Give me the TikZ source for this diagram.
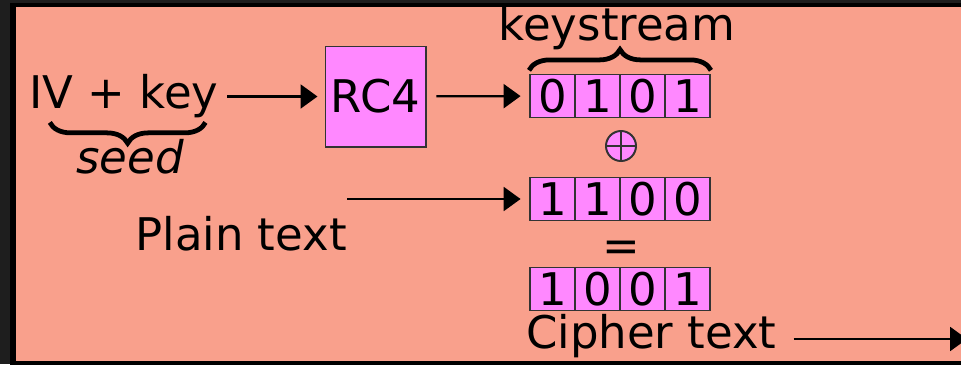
\documentclass[tikz,border=0pt]{standalone}
\usepackage{fontspec}
\setmainfont{DejaVu Sans}
\usetikzlibrary{arrows.meta,decorations.pathreplacing}
\definecolor{salmon}{HTML}{F9A08C}
\definecolor{pink}{HTML}{FF88FF}
\definecolor{frame}{HTML}{1E1E1E}

\begin{document}
\begin{tikzpicture}[x=0.025cm,y=-0.025cm,
  every node/.style={inner sep=0pt,font=\fontsize{32}{38}\selectfont},
  bit/.style={draw=black!80,line width=1.4pt,fill=pink,minimum width=1.125cm,minimum height=1.075cm},
  flow/.style={line width=1.6pt,-{Triangle[length=12pt,width=17pt]}},
  curly/.style={line width=3.4pt,decorate,decoration={brace,amplitude=0.52cm}}]
% frame and background
\useasboundingbox (0,0) rectangle (961,364);
\fill[frame] (0,0) rectangle (961,364);
\fill[black] (10,3) rectangle (975,370);
\fill[salmon] (16,7) rectangle (975,361);
% key schedule
\node[anchor=base west] (ivkey) at (29,108) {IV + key};
\node[anchor=base] (seed) at (130,173) {\itshape seed};
\node[draw=black!80,line width=1.4pt,fill=pink,minimum size=2.5cm] (rc4) at (375.5,96.5) {RC4};
\node[anchor=base] (ks) at (617,40) {keystream};
% bit rows
\foreach \b [count=\i] in {0,1,0,1} \node[bit] (k\i) at ({530+45*(\i-0.5)},96) {\b};
\foreach \b [count=\i] in {1,1,0,0} \node[bit] (p\i) at ({530+45*(\i-0.5)},199) {\b};
\foreach \b [count=\i] in {1,0,0,1} \node[bit] (c\i) at ({530+45*(\i-0.5)},289) {\b};
\node[draw=black!80,line width=1.4pt,fill=pink,circle,minimum size=0.75cm] (xor) at (621,146) {};
\draw[black!80,line width=1.4pt] (xor.north)--(xor.south) (xor.west)--(xor.east);
\node (eq) at (621,251) {=};
\node[anchor=base east] (plain) at (347,250) {Plain text};
\node[anchor=base west] (cipher) at (526,348) {Cipher text};
\coordinate (out) at (967,339);
% connectors
\draw[flow,shorten <=6pt,shorten >=5pt] (ivkey.east|-rc4)--(rc4);
\draw[flow,shorten <=7pt,shorten >=6pt] (rc4)--(k1);
\draw[flow,shorten >=6pt] (plain.east|-p1)--(p1);
\draw[flow,shorten <=12pt] (cipher.east|-out)--(out);
\draw[curly] ([xshift=-0.33cm,yshift=-0.12cm]ivkey.south east)--([xshift=0.52cm,yshift=-0.12cm]ivkey.south west);
\draw[curly] ([yshift=0.08cm]k1.north west)--([yshift=0.08cm]k4.north east);
\end{tikzpicture}
\end{document}
